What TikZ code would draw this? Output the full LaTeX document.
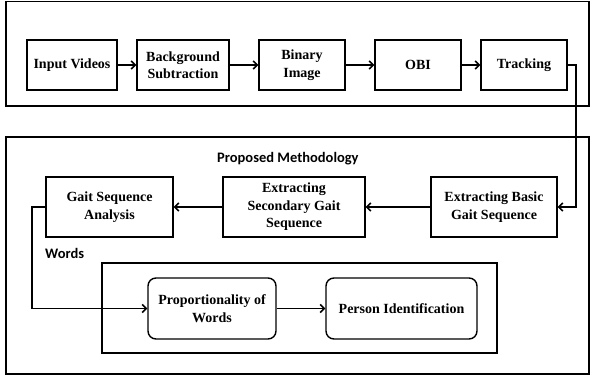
\documentclass[tikz,border=0pt]{standalone}
\usepackage{fontspec}
\setmainfont{Liberation Serif}
\newfontfamily\boxserif{Liberation Serif}
\newfontfamily\labelsans{Carlito}
\usetikzlibrary{arrows.meta}
\begin{document}
\begin{tikzpicture}[x=1pt,y=-1pt,
  box/.style={draw, line width=1.4pt, align=center, inner sep=2pt, font=\boxserif\bfseries\fontsize{14}{17.5}\selectfont},
  rbox/.style={box, rounded corners=8pt},
  frame/.style={draw, line width=1.4pt},
  arr/.style={line width=1.9pt, -{Straight Barb[length=4pt,width=8pt,line width=1.6pt]}},
  lab/.style={anchor=west, inner sep=0pt, font=\labelsans\bfseries\fontsize{14.5}{16}\selectfont}]
\useasboundingbox (0,0) rectangle (590,381);
% frames
\draw[frame] (6,1.5) rectangle (589,106);
\draw[frame] (6,137) rectangle (589,374);
\draw[frame] (102,263) rectangle (497,353);
% top row
\node[box, minimum width=90pt, minimum height=50pt] (inp) at (72,65) {Input Videos};
\node[box, minimum width=92pt, minimum height=50pt] (bgs) at (183,65) {Background\\Subtraction};
\node[box, minimum width=86pt, minimum height=50pt] (bin) at (302,65) {Binary\\Image};
\node[box, minimum width=86pt, minimum height=50pt] (obi) at (418,65) {OBI};
\node[box, minimum width=86pt, minimum height=50pt] (trk) at (524,65) {Tracking};
% middle row
\node[lab] (pm) at (217,159) {Proposed Methodology};
\node[box, minimum width=127pt, minimum height=60pt] (gsa) at (109.5,207) {Gait Sequence\\Analysis};
\node[box, minimum width=142pt, minimum height=60pt] (sec) at (294,207) {Extracting\\Secondary Gait\\Sequence};
\node[box, minimum width=126pt, minimum height=60pt] (bas) at (494,207) {Extracting Basic\\Gait Sequence};
\node[lab] (wd) at (45,253) {Words};
% bottom row
\node[rbox, minimum width=128pt, minimum height=61pt] (prop) at (212,308.5) {Proportionality of\\Words};
\node[rbox, minimum width=151pt, minimum height=61pt] (pid) at (401.5,308.5) {Person Identification};
% connectors
\draw[arr] (inp) -- (bgs);
\draw[arr] (bgs) -- (bin);
\draw[arr] (bin) -- (obi);
\draw[arr] (obi) -- (trk);
\coordinate (c1) at (576,65);
\draw[arr] (trk.east) -- (c1) |- (bas.east);
\draw[arr] (bas) -- (sec);
\draw[arr] (sec) -- (gsa);
\coordinate (c2) at (32,207);
\draw[arr] (gsa.west) -- (c2) |- (prop.west);
\draw[arr] (prop) -- (pid);
\end{tikzpicture}
\end{document}
